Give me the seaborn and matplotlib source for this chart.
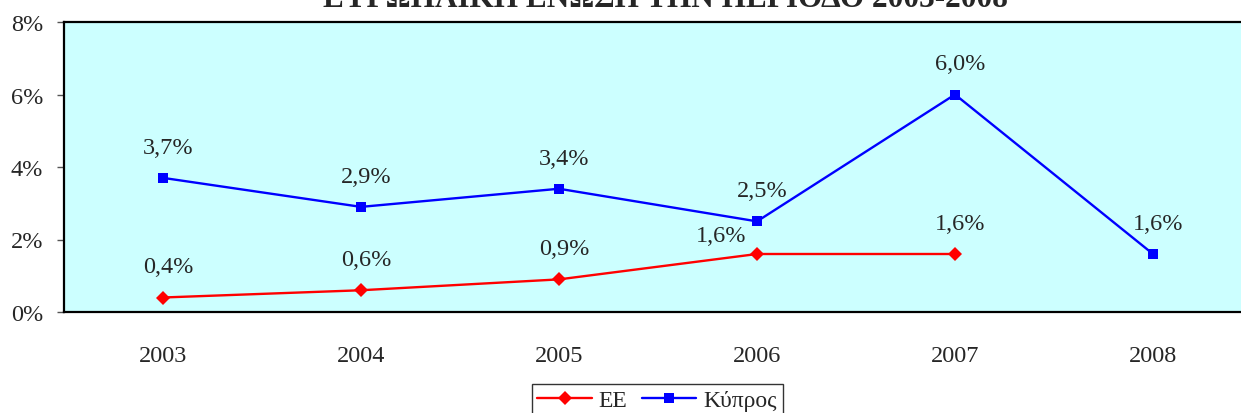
import matplotlib
matplotlib.use("Agg")
import matplotlib.pyplot as plt
import seaborn as sns
import numpy as np
import pandas as pd

# data
years = ["2003", "2004", "2005", "2006", "2007", "2008"]
ee = [0.4, 0.6, 0.9, 1.6, 1.6, np.nan]
cyprus = [3.7, 2.9, 3.4, 2.5, 6.0, 1.6]
series_names = ["ΕΕ", "Κύπρος"]
title = "ΕΥΡΩΠΑΪΚΗ ΕΝΩΣΗ ΤΗΝ ΠΕΡΙΟΔΟ 2003-2008"

sns.set_style("white")
plt.rcParams["font.family"] = ["Liberation Serif", "DejaVu Serif"]

df = pd.DataFrame({
    "idx": list(range(len(years))) * 2,
    "value": ee + cyprus,
    "series": [series_names[0]] * len(years) + [series_names[1]] * len(years),
}).dropna()

fig = plt.figure(figsize=(12.41, 4.14), dpi=100)
ax = fig.add_axes([64 / 1241, 101 / 414, 1188 / 1241, 290 / 414])
ax.set_facecolor("#CCFFFF")

g = sns.lineplot(data=df, x="idx", y="value", hue="series", style="series",
                 palette={"ΕΕ": "#FF0000", "Κύπρος": "#0000FF"},
                 markers={"ΕΕ": "D", "Κύπρος": "s"},
                 dashes=False, markersize=7, linewidth=1.7,
                 markeredgewidth=0, ax=ax)

# data labels
for name, vals in zip(series_names, [ee, cyprus]):
    for i, v in enumerate(vals):
        if np.isnan(v):
            continue
        off = (4, 22)
        if name == "ΕΕ" and years[i] == "2006":
            off = (-26, 13)
        ax.annotate(f"{v:.1f}%".replace(".", ","), (i, v), xytext=off,
                    textcoords="offset points", ha="center", va="center",
                    fontsize=17.5)

ax.set_xlim(-0.5, 5.5)
ax.set_ylim(0, 8)
ax.set_yticks([0, 2, 4, 6, 8])
ax.set_yticklabels([f"{t}%" for t in [0, 2, 4, 6, 8]])
ax.set_xticks(range(len(years)))
ax.set_xticklabels(years)
ax.set_xticks(np.arange(-0.5, 6, 1), minor=True)
ax.tick_params(axis="x", which="major", length=0, pad=24, labelsize=17.5)
ax.tick_params(axis="x", which="minor", length=5, width=1, color="#333333", direction="out")
ax.tick_params(axis="y", length=5, width=1, color="#555555", direction="out",
               pad=10, labelsize=17.5, left=True)
ax.set_xlabel("")
ax.set_ylabel("")
for s in ax.spines.values():
    s.set_color("black")
    s.set_linewidth(1.6)

ax.legend_.remove()
h, l = ax.get_legend_handles_labels()
leg = fig.legend(h, l, loc="upper center", bbox_to_anchor=(657 / 1241, 1 - 373 / 414),
                 ncol=2, frameon=True, fancybox=False, fontsize=17,
                 handlelength=2.3, columnspacing=0.6, handletextpad=0.3,
                 borderpad=0.25)
leg.get_frame().set_edgecolor("black")
leg.get_frame().set_linewidth(1.0)

# title line sits partly above the top edge, as in the source image
fig.text(665 / 1241, 1 - 7 / 414, title, ha="center", va="baseline",
         fontsize=22.5, fontweight="bold")

fig.savefig("out.png", dpi=100)
